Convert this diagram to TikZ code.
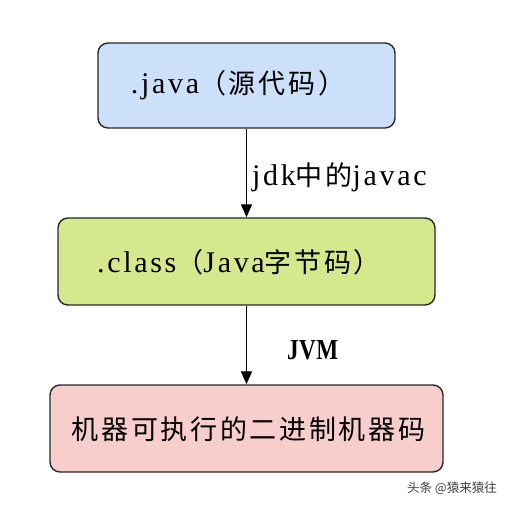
\documentclass[tikz,border=0pt]{standalone}
\usepackage{fontspec}
\usetikzlibrary{arrows.meta}
\newfontfamily\lat[LetterSpace=9]{Liberation Serif}
\newfontfamily\latb[LetterSpace=2]{Liberation Serif}
\newfontfamily\cjk[LetterSpace=10]{Noto Sans CJK SC}
\newfontfamily\wmk{Noto Sans CJK SC}
\newcommand{\lt}[1]{{\fontsize{30}{32}\lat #1}}
\definecolor{bluefill}{RGB}{204,224,250}
\definecolor{greenfill}{RGB}{213,232,142}
\definecolor{pinkfill}{RGB}{248,206,204}
\definecolor{edgecol}{RGB}{40,40,40}
\tikzset{
  box/.style={draw=edgecol, line width=1.4pt, rounded corners=10pt, inner sep=0pt},
  boxtext/.style={inner sep=0pt, font=\fontsize{27}{30}\selectfont, text=black},
  flow/.style={draw=black, line width=1.3pt, -{Triangle[width=11pt,length=13pt]}},
  lbl/.style={inner sep=0pt, anchor=west, font=\fontsize{27}{30}\selectfont}
}
\begin{document}
\begin{tikzpicture}[x=1pt,y=1pt]
\useasboundingbox[fill=white] (0,0) rectangle (512,505);
\node[box, fill=bluefill, minimum width=297pt, minimum height=85pt] (b1) at (246.5,419.5) {};
\node[box, fill=greenfill, minimum width=377pt, minimum height=87pt] (b2) at (246.5,243.5) {};
\node[box, fill=pinkfill, minimum width=393pt, minimum height=87pt] (b3) at (246.5,76.5) {};
\node[boxtext] (t1) at (238,420) {\lt{.java}{\cjk （源代码）}};
\node[boxtext] (t2) at (239,243) {\lt{.class}{\cjk （}\lt{Java}{\cjk 字节码）}};
\node[boxtext] (t3) at (248.5,76) {\cjk 机器可执行的二进制机器码};
\draw[flow] (b1.south) -- (b2.north);
\draw[flow] (b2.south) -- (b3.north);
\node[lbl] (l1) at (252,328) {\lt{jdk}{\cjk 中的}\lt{javac}};
\node[lbl, xscale=0.8, transform shape] (l2) at (287,155) {\fontsize{29}{32}\latb\bfseries JVM};
\node[inner sep=0pt, font=\wmk\fontsize{12.5}{14}\selectfont, text=black!75] (wm) at (452,17) {头条 @猿来猿往};
\end{tikzpicture}
\end{document}
